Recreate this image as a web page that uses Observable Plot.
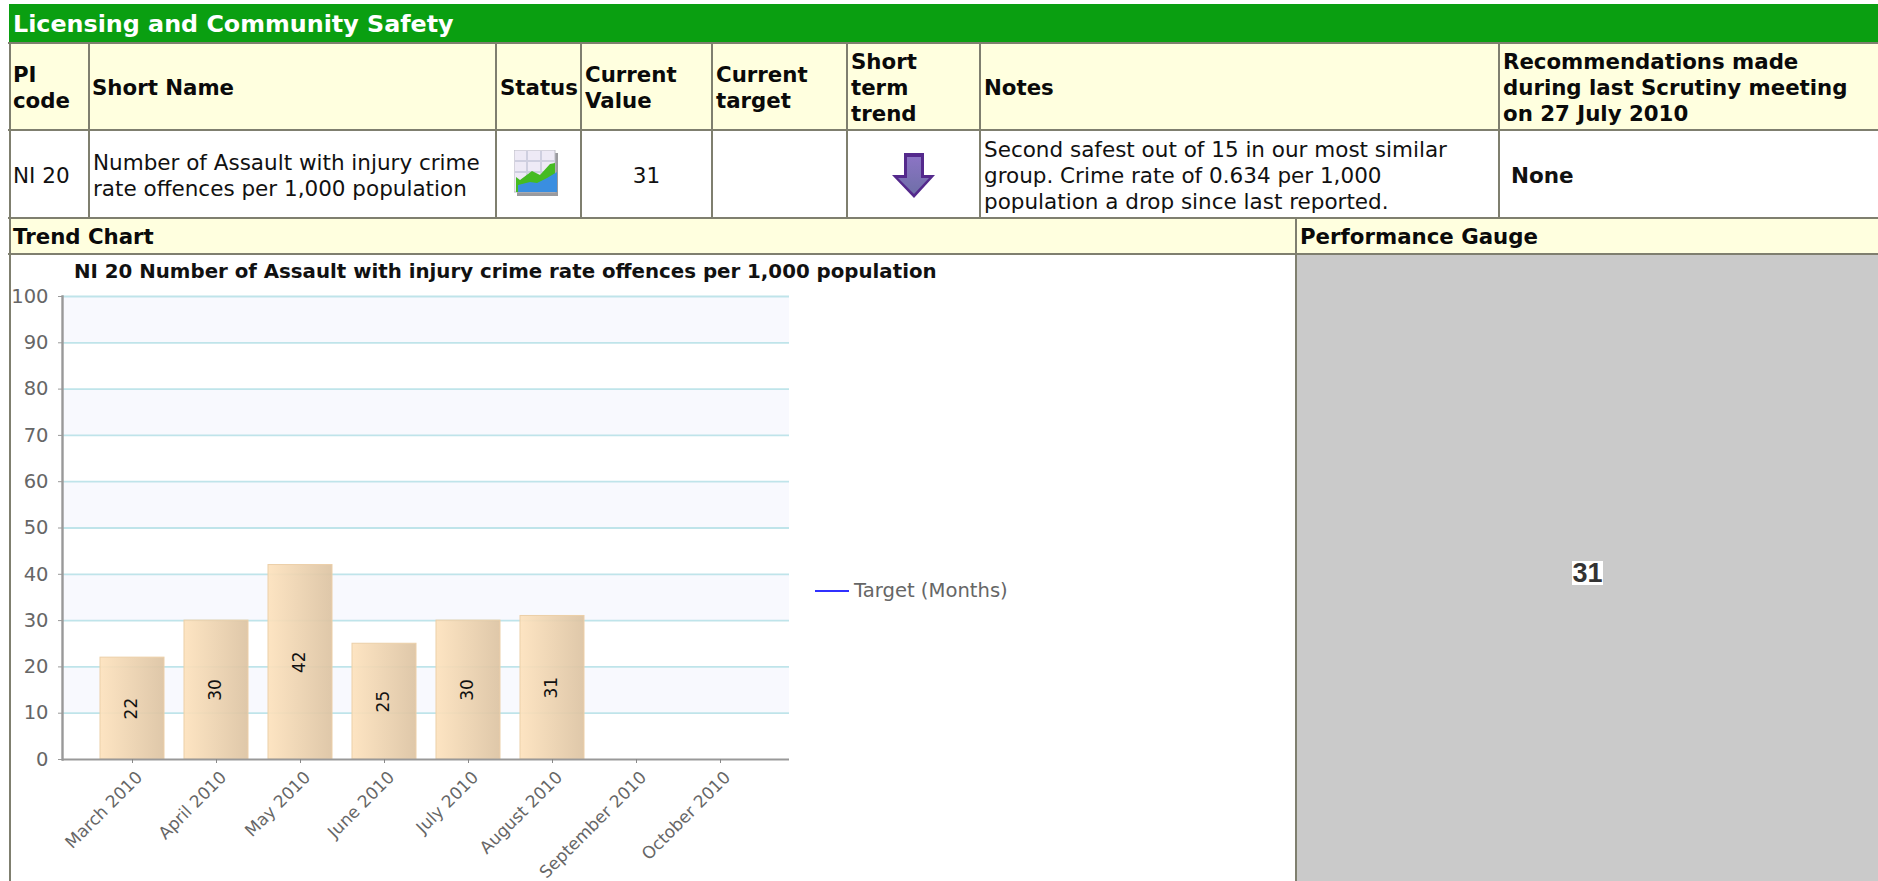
<!DOCTYPE html>
<html><head><meta charset="utf-8">
<script src="https://cdn.jsdelivr.net/npm/d3@7"></script>
<script src="https://cdn.jsdelivr.net/npm/@observablehq/plot@0.6"></script>
<style>
html,body{margin:0;padding:0;width:1878px;height:881px;overflow:hidden;background:#fff;font-family:"DejaVu Sans",Verdana,sans-serif;color:#000}
.c{position:absolute;box-sizing:border-box;display:flex;align-items:center;line-height:26px;white-space:pre-line}
.h{background:#ffffdf;font-weight:bold;font-size:21.3px;padding-left:3px;padding-top:4px;color:#0a0a0a}
.d{background:#fff;font-size:21.5px;padding-left:3px;padding-top:4px;color:#111}
.l{position:absolute;background:#7f7f6f}
svg text{font-family:"DejaVu Sans",Verdana,sans-serif}
</style></head><body><div id="page"></div>
<script>
const sectionTitle = "Licensing and Community Safety";
const headers = ["PI\ncode","Short Name","Status","Current\nValue","Current\ntarget","Short\nterm\ntrend","Notes","Recommendations made\nduring last Scrutiny meeting\non 27 July 2010"];
const rowCells = ["NI 20","Number of Assault with injury crime\nrate offences per 1,000 population","","31","","","Second safest out of 15 in our most similar\ngroup. Crime rate of 0.634 per 1,000\npopulation a drop since last reported.","None"];
const chartTitle = "NI 20 Number of Assault with injury crime rate offences per 1,000 population";
const months = ["March 2010","April 2010","May 2010","June 2010","July 2010","August 2010","September 2010","October 2010"];
const assaults = [22,30,42,25,30,31,null,null];
const yTicks = [0,10,20,30,40,50,60,70,80,90,100];
const bandStarts = [10,30,50,70,90];
const legendLabel = "Target (Months)";
const gaugeValue = "31";

const page = document.getElementById("page");
function box(cls,x,y,w,h,html,extra){const e=document.createElement("div");e.className=cls;e.style.cssText=`left:${x}px;top:${y}px;width:${w}px;height:${h}px;${extra||""}`;if(html!=null)e.innerHTML=html;page.appendChild(e);return e;}
const edges=[9,88,495,580,711,846,979,1498,1878];
box("c",9,4,1869,38,sectionTitle,"background:#0a9f11;color:#fff;font-weight:bold;font-size:23.8px;padding-left:4px;padding-top:2px");
edges.slice(0,-1).forEach((x,i)=>{box("c h",x+2,43,edges[i+1]-x-2,86,headers[i],i<2?"padding-left:2px":"");});
edges.slice(0,-1).forEach((x,i)=>{
  const ex = i===0?"padding-left:2px":i===3?"justify-content:center;padding-left:0":i===7?"font-weight:bold;padding-left:11px":"";
  box("c d",x+2,131,edges[i+1]-x-2,86,rowCells[i],ex);
});
box("c h",11,219,1284,34,"Trend Chart","padding-left:2px;padding-top:2px");
box("c h",1297,219,581,34,"Performance Gauge","padding-top:2px");
box("c",1297,255,581,626,null,"background:#cacaca");
// rules
[[8,42,1870,2],[8,129,1870,2],[8,217,1870,2],[8,253,1870,2]].forEach(r=>box("l",...r));
box("l",9,42,2,839);
edges.slice(1,-1).forEach(x=>box("l",x,42,2,175));
box("l",1295,217,2,664);

// icons
box("c",514,150,44,46,`<svg width="44" height="46" viewBox="0 0 44 46"><rect x="3" y="3" width="41" height="43" fill="#9a9a9e"/><rect x="0" y="0" width="41" height="42" fill="#eeeaf6" stroke="#bcbcc4"/><path d="M1 11H41M1 22H41M13 1V40M27 1V40" stroke="#cfcfe0" stroke-width="2"/><path d="M2 27L6 30L18 21L26 25L36 14L41 13V42H2Z" fill="#45bb22"/><path d="M4 35L16 32L23 33L33 28L43 22V42H4Z" fill="#3a8ee0"/></svg>`);
box("c",892,153,44,45,`<svg width="44" height="45" viewBox="0 0 44 45"><defs><linearGradient id="ar" x1="0" x2="0" y1="0" y2="1"><stop offset="0" stop-color="#8b74c4"/><stop offset="1" stop-color="#6f6fa8"/></linearGradient></defs><path d="M12 0H32V22H43L22 45L0 22H12Z" fill="#54298c"/><path d="M15 4H29V25H37L22 41L6 25H15Z" fill="url(#ar)"/></svg>`);

// chart
const data = months.map((m,i)=>({m,v:assaults[i]}));
const gradient = () => { const s=d3.create("svg:defs"); const g=s.append("linearGradient").attr("id","barGrad").attr("x1",0).attr("x2",1).attr("y1",0).attr("y2",0);
  g.append("stop").attr("offset",0).attr("stop-color","#fde2bd"); g.append("stop").attr("offset",1).attr("stop-color","#dcc3a2"); return s.node(); };
const filled = data.filter(d=>d.v!=null);
const chart = Plot.plot({
  width:1285,height:626,marginLeft:51,marginRight:507,marginTop:41,marginBottom:122,
  style:{background:"transparent",overflow:"hidden"},
  x:{domain:months,paddingInner:0.242,paddingOuter:0.43,label:null},
  y:{domain:[0,100],label:null},
  marks:[
    gradient,
    Plot.rectY(bandStarts,{y1:d=>d,y2:d=>d+10,fill:"#f8f9fe"}),
    Plot.ruleY(yTicks.filter(d=>d>0),{stroke:"#bfe4ea",strokeWidth:1.8}),
    Plot.barY(filled,{x:"m",y:"v",fill:"url(#barGrad)",fillOpacity:.92,stroke:"#eccfa8",strokeWidth:1}),
    Plot.text(filled,{x:"m",y:d=>d.v/2,text:d=>String(d.v),rotate:-90,dx:-1,fontSize:17,fill:"#111",fontFamily:"DejaVu Sans Condensed"}),
    Plot.frame({anchor:"left",stroke:"#999",strokeWidth:2.4}),
    Plot.ruleY([0],{stroke:"#999",strokeWidth:2}),
    Plot.axisY({ticks:yTicks,tickSize:4,tickPadding:10,fontSize:19.5,color:"#666",stroke:"#999",label:null}),
    Plot.axisX({tickSize:4,text:null,stroke:"#888",label:null}),
    Plot.axisX({tickSize:0,tickRotate:-45,tickPadding:10,dx:7,dy:5,fontSize:17,color:"#666",label:null})
  ]
});
chart.style.position="absolute";chart.style.left="11px";chart.style.top="255px";
page.appendChild(chart);
box("c",74,259,900,26,chartTitle,"font-weight:bold;font-size:19.8px;color:#111;font-family:'DejaVu Sans'");
box("c",815,590,34,2,null,"background:#3030ff");
box("c",854,578,220,26,legendLabel,"font-size:19.6px;color:#666");
box("c",1572,561,31,24,gaugeValue,"background:#fff;font-weight:bold;font-size:27px;line-height:24px;color:#333;justify-content:center;font-family:'Liberation Sans'");
</script></body></html>
